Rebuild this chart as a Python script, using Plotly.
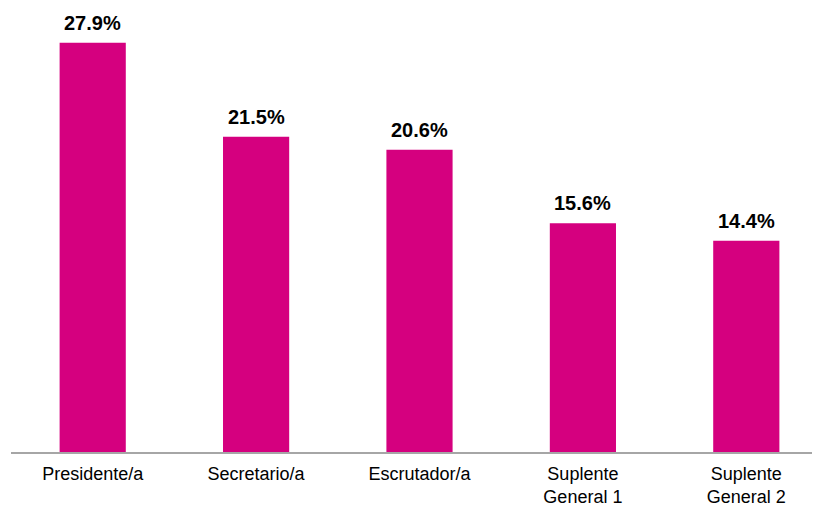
import plotly.graph_objects as go

categories = ["Presidente/a", "Secretario/a", "Escrutador/a",
              "Suplente<br>General 1", "Suplente<br>General 2"]
values = [27.9, 21.5, 20.6, 15.6, 14.4]
labels = ["27.9%", "21.5%", "20.6%", "15.6%", "14.4%"]

bar_color = "#D5007F"

fig = go.Figure()
fig.add_trace(go.Bar(
    x=categories,
    y=values,
    marker=dict(color=bar_color, line=dict(width=0)),
    hoverinfo="skip",
))

# value labels above each bar
for cat, val, lab in zip(categories, values, labels):
    fig.add_annotation(
        x=cat, y=val, text="<b>" + lab + "</b>",
        showarrow=False, yanchor="bottom", yshift=7,
        font=dict(family="Liberation Sans, Arial, sans-serif", size=20, color="#000000"),
    )

# page body has an 8px margin, so the margins are trimmed to compensate
fig.update_layout(
    width=820, height=509,
    margin=dict(l=3, r=0, t=4, b=65),
    paper_bgcolor="white",
    plot_bgcolor="white",
    bargap=0.595,
    showlegend=False,
    font=dict(family="Liberation Sans, Arial, sans-serif", color="#000000"),
)
fig.update_xaxes(
    showline=True, linecolor="#A6A6A6", linewidth=2,
    ticks="outside", ticklen=4, tickcolor="rgba(0,0,0,0)",
    tickfont=dict(size=18),
    showgrid=False,
)
fig.update_yaxes(
    range=[0, 30], visible=False, showgrid=False, zeroline=False,
)

fig.write_html("out.html")
